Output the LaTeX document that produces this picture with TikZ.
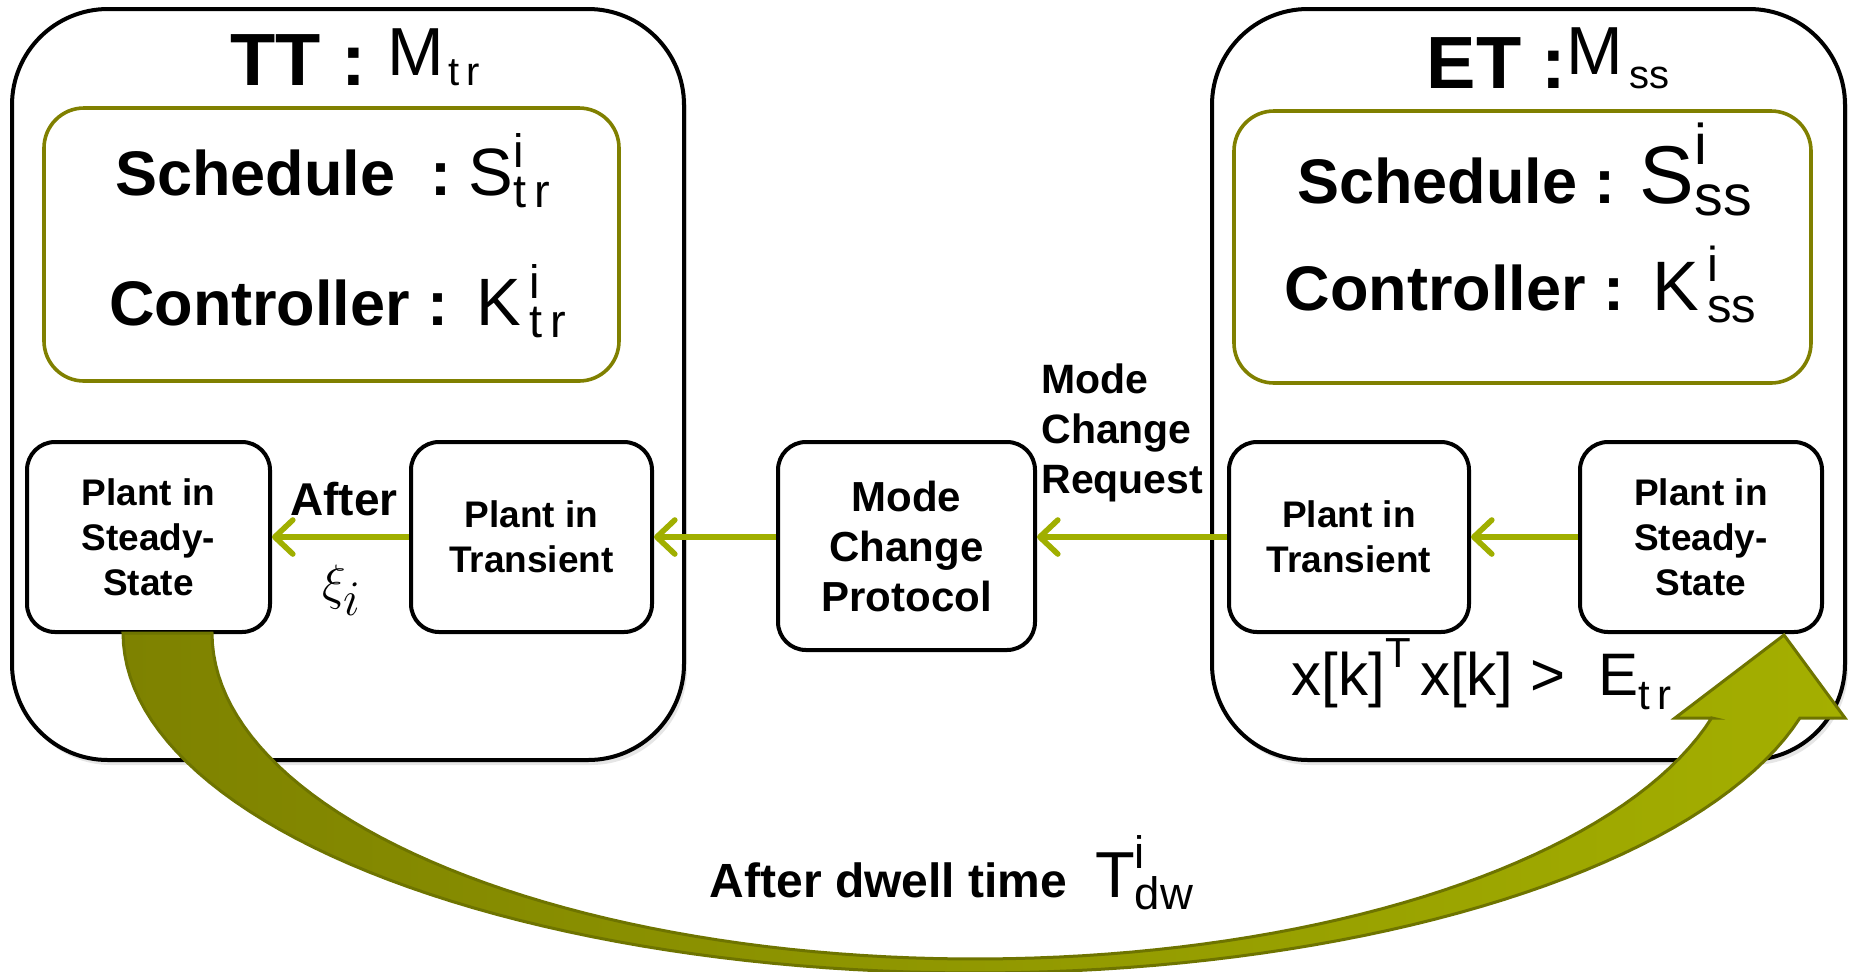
\documentclass[tikz,border=0pt]{standalone}
\usepackage{amsmath}
\usepackage{fontspec}
\setmainfont{Liberation Sans}
\usetikzlibrary{arrows.meta,shadows}

\definecolor{modeolive}{RGB}{128,128,0}
\definecolor{linkgreen}{RGB}{160,175,0}
\definecolor{dwelldark}{RGB}{126,130,0}
\definecolor{dwellmid}{RGB}{134,140,0}
\definecolor{dwelllight}{RGB}{164,175,0}
\definecolor{dwelledge}{RGB}{110,116,0}

\newcommand{\sizeto}[1]{\fontsize{#1}{#1}\selectfont}

\begin{document}
\begin{tikzpicture}[
  x=0.5pt, y=-0.5pt,
  modebox/.style={draw, fill=white, line width=2pt, rounded corners=48pt,
    drop shadow={shadow xshift=1.5pt, shadow yshift=-2.5pt, opacity=.2}},
  setbox/.style={draw=modeolive, line width=1.8pt, rounded corners=20pt},
  plant/.style={draw, fill=white, line width=2pt, rounded corners=14pt, align=center, inner sep=0pt,
    font=\fontsize{18.5}{22.5}\selectfont\bfseries},
  flow/.style={draw=linkgreen, line width=2.8pt, -{Straight Barb[length=9pt, width=17pt, round]}},
  dwellarrow/.style={draw=dwelledge, line width=1.5pt, left color=dwelldark, middle color=dwellmid, right color=dwelllight}
]
  \clip (0,0) rectangle (1849,971);

  \node[modebox, minimum width=336pt, minimum height=375.5pt] (ttmode) at (348,384.5) {};
  \node[modebox, minimum width=316.5pt, minimum height=375.5pt] (etmode) at (1528.5,384.5) {};
  \node[setbox, minimum width=287.5pt, minimum height=136.5pt] (ttset) at (331.5,244.5) {};
  \node[setbox, minimum width=288.5pt, minimum height=136pt] (etset) at (1522.5,247) {};

  \node[anchor=base] (tttitle) at (355,85) {\sizeto{37}\textbf{TT :}\hspace{11pt}{\sizeto{34}\raisebox{5pt}{M}}\hspace{2pt}{\sizeto{20}t\,r}};
  \node[anchor=base] (ettitle) at (1548,88) {\sizeto{37}\textbf{ET :}{\sizeto{34}\raisebox{7pt}{M}}\hspace{3pt}{\sizeto{20}ss}};

  \node[anchor=base] (ttsched) at (333,195) {\sizeto{31.5}\textbf{Schedule~~:}~{\sizeto{33.5}$\text{S}^{\text{i}}_{\text{t\,r}}$}};
  \node[anchor=base] (ttctrl) at (338,325) {\sizeto{31.5}\textbf{Controller :}\hspace{14pt}{\sizeto{33.5}$\text{K}^{\,\text{i}}_{\,\text{t\,r}}$}};
  \node[anchor=base] (etsched) at (1525,203) {\sizeto{31.5}\textbf{Schedule :}\hspace{12pt}{\sizeto{41}$\text{S}^{\text{i}}_{\text{ss}}$}};
  \node[anchor=base] (etctrl) at (1521,310) {\sizeto{31.5}\textbf{Controller :}\hspace{14pt}{\sizeto{35}$\text{K}^{\,\text{i}}_{\,\text{ss}}$}};

  \node[plant, minimum width=121.5pt, minimum height=95pt] (ttsteady) at (148.5,537) {Plant in\\Steady-\\State};
  \node[plant, minimum width=120.5pt, minimum height=95pt] (tttrans) at (531.5,537) {Plant in\\Transient};
  \node[plant, minimum width=128.5pt, minimum height=104pt, font=\fontsize{21}{25}\selectfont\bfseries] (protocol) at (906.5,546) {Mode\\Change\\Protocol};
  \node[plant, minimum width=120pt, minimum height=95pt] (ettrans) at (1349,537) {Plant in\\Transient};
  \node[plant, minimum width=121pt, minimum height=95pt] (etsteady) at (1701,537) {Plant in\\Steady-\\State};

  \node[anchor=west, align=left, inner sep=0pt, font=\fontsize{20.5}{25}\selectfont\bfseries] (request) at (1041,433) {Mode\\Change\\Request};
  \node[font=\fontsize{23}{23}\selectfont\bfseries] (after) at (344,499) {After};
  \node (xi) at (342,590) {\sizeto{36}$\xi_i$};
  \node[anchor=base] (energy) at (1482,695) {\sizeto{30}$\text{x[k]}^{\text{T}}\,\text{x[k] >~~E}_{\text{t\,r}}$};

  \draw[flow] (etsteady) -- (ettrans);
  \draw[flow] (ettrans.west) -- (ettrans.west -| protocol.east);
  \draw[flow] (protocol.west |- tttrans.east) -- (tttrans.east);
  \draw[flow] (tttrans) -- (ttsteady);

  \draw[dwellarrow] (123,633) -- plot[domain=180:345.5, samples=90] ({975+852*cos(\x)}, {633-340*sin(\x)})
    -- (1845,718) -- (1784,635) -- (1675,718) -- (1712,718)
    -- plot[domain=344.9:180, samples=90] ({975+763*cos(\x)}, {633-326*sin(\x)}) -- cycle;

  \node[anchor=base] (dwell) at (952,897) {\sizeto{24}\textbf{After dwell time}\hspace{14pt}{\sizeto{32.5}$\text{T}^{\text{i}}_{\text{dw}}$}};
\end{tikzpicture}
\end{document}
